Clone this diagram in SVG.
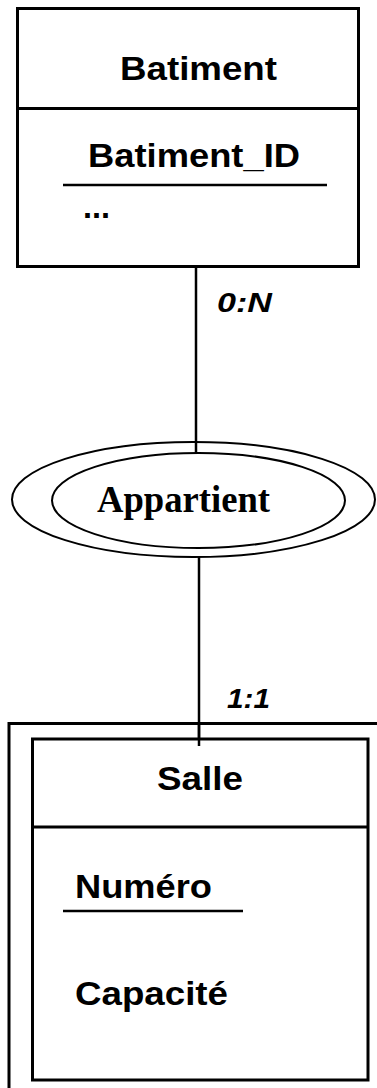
<svg xmlns="http://www.w3.org/2000/svg" width="377" height="1088" viewBox="0 0 377 1088">
<style>
.box{fill:#fff;stroke:#000;stroke-width:3}
.ln{stroke:#000;stroke-width:3;fill:none}
.ul{stroke:#000;stroke-width:2.5}
.con{stroke:#000;stroke-width:2.5;fill:none}
.ell{fill:#fff;stroke:#000;stroke-width:2}
.t{font-family:"Liberation Sans",Arial,sans-serif;font-weight:bold;font-size:33px;fill:#000}
.card{font-family:"Liberation Sans",Arial,sans-serif;font-weight:bold;font-style:italic;font-size:27px;fill:#000}
.rel{font-family:"Liberation Serif","Times New Roman",serif;font-weight:bold;font-size:38px;fill:#000}
</style>
<rect width="377" height="1088" fill="#fff"/>
<g id="connectors">
<line class="con" x1="196" y1="266" x2="196" y2="454"/>
<line class="con" x1="199" y1="557" x2="199" y2="746"/>
<text class="card" x="217" y="312" textLength="55" lengthAdjust="spacingAndGlyphs">0:N</text>
<text class="card" x="227" y="708" textLength="43" lengthAdjust="spacingAndGlyphs">1:1</text>
</g>
<g id="batiment">
<rect class="box" x="17.5" y="8.5" width="341" height="258"/>
<line class="ln" x1="17.5" y1="108.5" x2="358.5" y2="108.5"/>
<text class="t" x="120" y="80" textLength="157" lengthAdjust="spacingAndGlyphs">Batiment</text>
<text class="t" x="88" y="167" textLength="212" lengthAdjust="spacingAndGlyphs">Batiment_ID</text>
<line class="ul" x1="63" y1="185" x2="327" y2="185"/>
<text class="t" x="83" y="218" textLength="27" lengthAdjust="spacingAndGlyphs">...</text>
</g>
<g id="appartient">
<ellipse class="ell" cx="193.5" cy="499.5" rx="181.5" ry="57.5"/>
<ellipse class="ell" cx="198.5" cy="500.5" rx="146.5" ry="47.5"/>
<line class="con" x1="196" y1="441" x2="196" y2="454"/>
<text class="rel" x="97" y="512" textLength="173" lengthAdjust="spacingAndGlyphs">Appartient</text>
</g>
<g id="salle">
<path class="ln" d="M9 1088 V723.5 H377"/>
<rect class="box" x="32.5" y="739" width="335.5" height="341"/>
<line class="ln" x1="32.5" y1="827" x2="368" y2="827"/>
<line class="con" x1="199" y1="723" x2="199" y2="746"/>
<text class="t" x="157" y="790" textLength="86" lengthAdjust="spacingAndGlyphs">Salle</text>
<text class="t" x="75" y="898" textLength="137" lengthAdjust="spacingAndGlyphs">Numéro</text>
<line class="ul" x1="63" y1="911" x2="243" y2="911"/>
<text class="t" x="75" y="1005" textLength="153" lengthAdjust="spacingAndGlyphs">Capacité</text>
</g>
</svg>
